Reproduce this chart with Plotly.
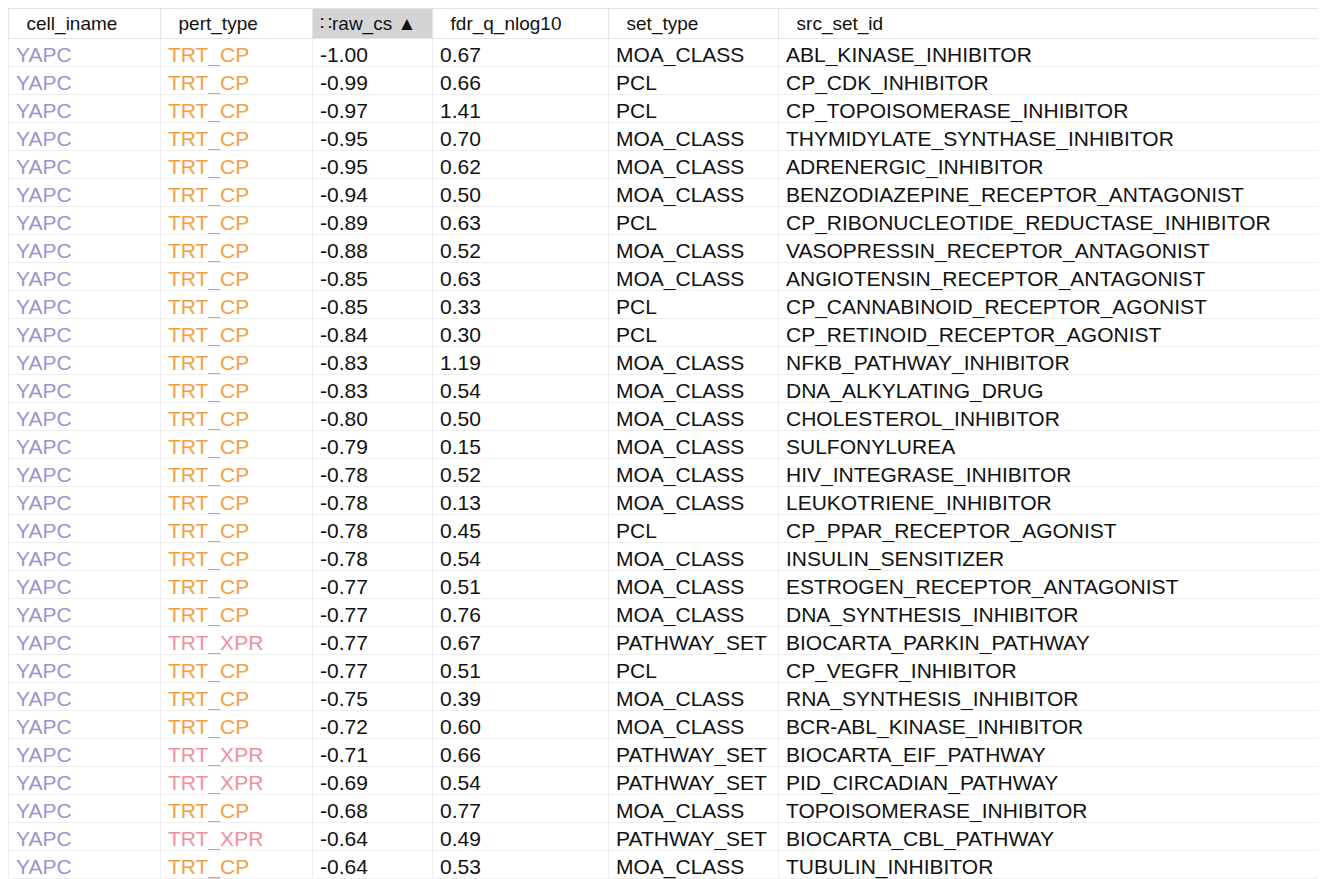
import plotly.graph_objects as go

cell_iname = ["YAPC"] * 30
pert_type = ["TRT_CP"] * 21 + ["TRT_XPR", "TRT_CP", "TRT_CP", "TRT_CP", "TRT_XPR", "TRT_XPR", "TRT_CP", "TRT_XPR", "TRT_CP"]
raw_cs = [-1.00, -0.99, -0.97, -0.95, -0.95, -0.94, -0.89, -0.88, -0.85, -0.85, -0.84, -0.83, -0.83, -0.80, -0.79,
          -0.78, -0.78, -0.78, -0.78, -0.77, -0.77, -0.77, -0.77, -0.75, -0.72, -0.71, -0.69, -0.68, -0.64, -0.64]
fdr_q_nlog10 = [0.67, 0.66, 1.41, 0.70, 0.62, 0.50, 0.63, 0.52, 0.63, 0.33, 0.30, 1.19, 0.54, 0.50, 0.15,
                0.52, 0.13, 0.45, 0.54, 0.51, 0.76, 0.67, 0.51, 0.39, 0.60, 0.66, 0.54, 0.77, 0.49, 0.53]
set_type = ["MOA_CLASS", "PCL", "PCL", "MOA_CLASS", "MOA_CLASS", "MOA_CLASS", "PCL", "MOA_CLASS", "MOA_CLASS", "PCL",
            "PCL", "MOA_CLASS", "MOA_CLASS", "MOA_CLASS", "MOA_CLASS", "MOA_CLASS", "MOA_CLASS", "PCL", "MOA_CLASS", "MOA_CLASS",
            "MOA_CLASS", "PATHWAY_SET", "PCL", "MOA_CLASS", "MOA_CLASS", "PATHWAY_SET", "PATHWAY_SET", "MOA_CLASS", "PATHWAY_SET", "MOA_CLASS"]
src_set_id = ["ABL_KINASE_INHIBITOR", "CP_CDK_INHIBITOR", "CP_TOPOISOMERASE_INHIBITOR", "THYMIDYLATE_SYNTHASE_INHIBITOR",
              "ADRENERGIC_INHIBITOR", "BENZODIAZEPINE_RECEPTOR_ANTAGONIST", "CP_RIBONUCLEOTIDE_REDUCTASE_INHIBITOR",
              "VASOPRESSIN_RECEPTOR_ANTAGONIST", "ANGIOTENSIN_RECEPTOR_ANTAGONIST", "CP_CANNABINOID_RECEPTOR_AGONIST",
              "CP_RETINOID_RECEPTOR_AGONIST", "NFKB_PATHWAY_INHIBITOR", "DNA_ALKYLATING_DRUG", "CHOLESTEROL_INHIBITOR",
              "SULFONYLUREA", "HIV_INTEGRASE_INHIBITOR", "LEUKOTRIENE_INHIBITOR", "CP_PPAR_RECEPTOR_AGONIST",
              "INSULIN_SENSITIZER", "ESTROGEN_RECEPTOR_ANTAGONIST", "DNA_SYNTHESIS_INHIBITOR", "BIOCARTA_PARKIN_PATHWAY",
              "CP_VEGFR_INHIBITOR", "RNA_SYNTHESIS_INHIBITOR", "BCR-ABL_KINASE_INHIBITOR", "BIOCARTA_EIF_PATHWAY",
              "PID_CIRCADIAN_PATHWAY", "TOPOISOMERASE_INHIBITOR", "BIOCARTA_CBL_PATHWAY", "TUBULIN_INHIBITOR"]
headers = ["  cell_iname", "  pert_type", "∷raw_cs ▲", "  fdr_q_nlog10", "  set_type", "  src_set_id"]

pert_colors = ["#f0a044" if p == "TRT_CP" else "#f0909c" for p in pert_type]
black = ["#111111"] * 30

fig = go.Figure(go.Table(
    columnwidth=[152, 152, 120, 176, 170, 556],
    header=dict(values=headers, align="left", height=30,
                fill_color=["white", "white", "#d4d4d4", "white", "white", "white"],
                line_color="#e4e4e4",
                font=dict(family="Liberation Sans, Arial", size=19, color="#111111")),
    cells=dict(values=[cell_iname, pert_type, [f"{v:.2f}" for v in raw_cs],
                       [f"{v:.2f}" for v in fdr_q_nlog10], set_type, src_set_id],
               align="left", height=28, fill_color="white", line_color="#eeeeee",
               font=dict(family="Liberation Sans, Arial", size=21,
                         color=[["#9d94cf"] * 30, pert_colors, black, black, black, black])),
    domain=dict(x=[0, 1], y=[0, 1]),
))
fig.update_layout(width=1326, height=879, margin=dict(l=0, r=0, t=0, b=0), paper_bgcolor="white")
fig.write_html("out.html")
